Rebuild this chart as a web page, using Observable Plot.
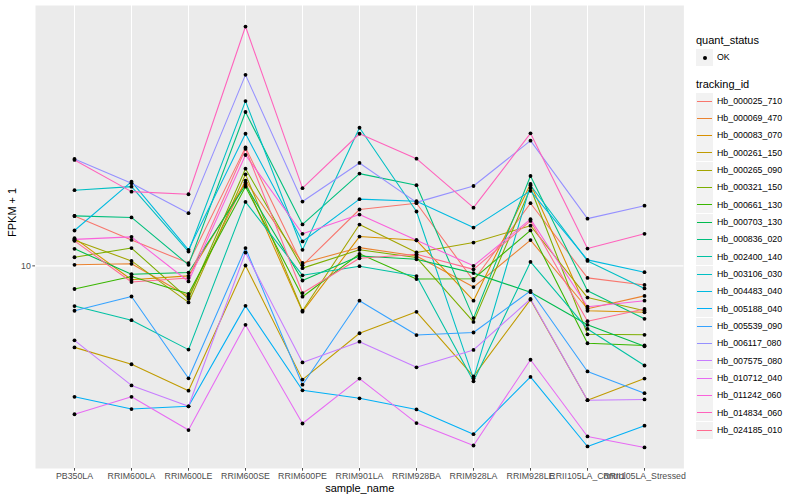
<!DOCTYPE html>
<html><head><meta charset="utf-8">
<script src="https://cdn.jsdelivr.net/npm/d3@7"></script>
<script src="https://cdn.jsdelivr.net/npm/@observablehq/plot@0.6"></script>
<style>
body{margin:0;background:#fff;font-family:"Liberation Sans",Arial,Helvetica,sans-serif;}
#wrap{position:relative;width:800px;height:500px;overflow:hidden;background:#fff;}
#chart{position:absolute;left:0;top:0;}
.lt{position:absolute;white-space:nowrap;line-height:1;color:#000;}
.key{position:absolute;width:17px;height:17px;background:#F2F2F2;}
</style></head><body>
<div id="wrap"><div id="chart"></div><div id="legend"></div></div>
<script>
const samples = ["PB350LA","RRIM600LA","RRIM600LE","RRIM600SE","RRIM600PE","RRIM901LA","RRIM928BA","RRIM928LA","RRIM928LE","RRII105LA_Control","RRII105LA_Stressed"];
const trackingIds = ["Hb_000025_710","Hb_000069_470","Hb_000083_070","Hb_000261_150","Hb_000265_090","Hb_000321_150","Hb_000661_130","Hb_000703_130","Hb_000836_020","Hb_002400_140","Hb_003106_030","Hb_004483_040","Hb_005188_040","Hb_005539_090","Hb_006117_080","Hb_007575_080","Hb_010712_040","Hb_011242_060","Hb_014834_060","Hb_024185_010"];
const colors = ["#F8766D","#EA8331","#D89000","#C09B00","#A3A500","#7CAE00","#39B600","#00BB4E","#00BF7D","#00C1A3","#00BFC4","#00BAE0","#00B0F6","#35A2FF","#9590FF","#C77CFF","#E76BF3","#FA62DB","#FF62BC","#FF6C91"];
const quantStatus = ["OK"];

// FPKM + 1 per sample (order of samples)
const Hb_000025_710 = [13.33, 11.61, 10.16, 19.80, 10.03, 13.84, 14.35, 9.19, 14.35, 9.33, 8.96];
const Hb_000069_470 = [10.06, 10.12, 8.38, 16.35, 10.17, 11.11, 10.59, 8.85, 11.60, 7.81, 8.41];
const Hb_000083_070 = [11.73, 9.23, 9.44, 16.16, 7.68, 11.84, 11.59, 8.18, 16.04, 7.72, 7.65];
const Hb_000261_150 = [6.25, 5.67, 4.87, 10.02, 5.19, 6.78, 7.67, 5.29, 8.23, 4.61, 5.22];
const Hb_000265_090 = [11.59, 10.29, 8.10, 16.95, 7.72, 12.69, 10.80, 11.44, 12.61, 8.33, 7.72];
const Hb_000321_150 = [10.51, 11.08, 8.27, 17.51, 9.87, 10.97, 10.49, 7.24, 15.67, 6.74, 6.72];
const Hb_000661_130 = [8.75, 9.40, 8.51, 15.79, 8.37, 10.72, 9.27, 9.28, 12.27, 6.40, 6.32];
const Hb_000703_130 = [11.03, 9.53, 9.62, 15.94, 9.19, 10.59, 10.39, 9.59, 8.59, 7.12, 6.29];
const Hb_000836_020 = [13.34, 13.22, 10.06, 24.28, 12.70, 17.02, 15.92, 7.40, 16.79, 8.66, 7.37];
const Hb_002400_140 = [7.93, 7.31, 6.17, 14.46, 9.47, 9.98, 9.43, 5.14, 10.23, 6.95, 5.63];
const Hb_003106_030 = [15.47, 15.79, 10.86, 25.86, 10.97, 22.17, 13.68, 5.22, 15.92, 10.29, 8.78];
const Hb_004483_040 = [12.26, 16.25, 10.97, 21.42, 11.51, 14.69, 14.52, 12.47, 15.41, 10.35, 9.64];
const Hb_005188_040 = [4.70, 4.38, 4.45, 7.94, 4.88, 4.66, 4.37, 3.79, 5.27, 3.53, 3.98];
const Hb_005539_090 = [7.72, 8.38, 5.23, 11.08, 5.04, 8.18, 6.71, 6.81, 8.66, 5.44, 4.80];
const Hb_006117_080 = [18.52, 16.10, 13.55, 30.08, 14.49, 18.10, 14.42, 15.85, 20.58, 13.13, 14.15];
const Hb_007575_080 = [6.51, 5.02, 4.45, 10.80, 5.73, 6.46, 5.57, 6.16, 8.26, 4.61, 4.63];
const Hb_010712_040 = [4.25, 4.70, 3.88, 7.12, 4.03, 5.22, 4.04, 3.55, 5.82, 3.74, 3.51];
const Hb_011242_060 = [11.65, 11.82, 9.14, 18.95, 12.03, 13.44, 11.59, 10.00, 13.09, 7.90, 8.18];
const Hb_014834_060 = [18.42, 15.34, 15.11, 39.74, 15.65, 21.42, 18.55, 13.99, 21.47, 11.05, 12.03];
const Hb_024185_010 = [11.55, 9.11, 9.32, 19.62, 8.55, 10.45, 10.69, 9.80, 12.96, 7.27, 7.80];

const seriesValues = [Hb_000025_710, Hb_000069_470, Hb_000083_070, Hb_000261_150, Hb_000265_090, Hb_000321_150, Hb_000661_130, Hb_000703_130, Hb_000836_020, Hb_002400_140, Hb_003106_030, Hb_004483_040, Hb_005188_040, Hb_005539_090, Hb_006117_080, Hb_007575_080, Hb_010712_040, Hb_011242_060, Hb_014834_060, Hb_024185_010];

const data = [];
seriesValues.forEach((vals, i) => vals.forEach((v, j) => data.push({sample: samples[j], id: trackingIds[i], value: v, status: "OK"})));

const all = data.map(d => d.value);
const lo = Math.log10(d3.min(all)), hi = Math.log10(d3.max(all)), pad = (hi - lo) * 0.05;
const FONT = '"Liberation Sans",Arial,Helvetica,sans-serif';

const plot = Plot.plot({
  width: 690, height: 500,
  marginLeft: 35, marginRight: 6.6, marginTop: 5, marginBottom: 32,
  style: {fontFamily: FONT, background: "white", overflow: "visible"},
  x: {type: "point", domain: samples, padding: 0.6},
  y: {type: "log", domain: [10 ** (lo - pad), 10 ** (hi + pad)]},
  color: {domain: trackingIds, range: colors},
  marks: [
    Plot.frame({fill: "#EBEBEB"}),
    Plot.gridX({stroke: "white", strokeOpacity: 1, strokeWidth: 1.07}),
    Plot.gridY([10], {stroke: "white", strokeOpacity: 1, strokeWidth: 1.07}),
    Plot.axisX({tickSize: 2.7, tickPadding: 2, fontSize: 8.8, color: "#4D4D4D", label: null}),
    Plot.axisY([10], {tickSize: 2.7, tickPadding: 2, fontSize: 8.8, color: "#4D4D4D", label: null, tickFormat: d => String(d)}),
    Plot.line(data, {x: "sample", y: "value", z: "id", stroke: "id", strokeWidth: 1.07}),
    Plot.dot(data, {x: "sample", y: "value", fill: "black", r: 1.9}),
    Plot.text(["sample_name"], {text: d => d, frameAnchor: "bottom", dy: 23, fontSize: 11, fill: "black"}),
    Plot.text(["FPKM + 1"], {text: d => d, frameAnchor: "left", rotate: -90, dx: -23, fontSize: 11, fill: "black"})
  ]
});
document.getElementById("chart").appendChild(plot);

// legend
const lg = document.getElementById("legend");
function addText(txt, left, cy, size) {
  const el = document.createElement("div");
  el.className = "lt";
  el.textContent = txt;
  el.style.left = left + "px";
  el.style.fontSize = size + "px";
  el.style.top = (cy - size * 0.5) + "px";
  lg.appendChild(el);
}
function addKey(cy) {
  const k = document.createElement("div");
  k.className = "key";
  k.style.left = "696px";
  k.style.top = Math.round(cy - 8.5) + "px";
  lg.appendChild(k);
  return k;
}
addText("quant_status", 696, 40, 11);
quantStatus.forEach((q, i) => {
  const cy = 57 + i * 17.33;
  const k = addKey(cy);
  const dot = document.createElement("div");
  dot.style.cssText = "position:absolute;left:6.5px;top:6.5px;width:4px;height:4px;border-radius:50%;background:#000;";
  k.appendChild(dot);
  addText(q, 717, cy, 8.8);
});
addText("tracking_id", 696, 84, 11);
trackingIds.forEach((id, i) => {
  const cy = 101 + i * 17.33;
  const k = addKey(cy);
  const ln = document.createElement("div");
  ln.style.cssText = `position:absolute;left:1px;width:15px;top:8px;height:1px;background:${colors[i]};`;
  k.appendChild(ln);
  addText(id, 717, cy, 8.8);
});
</script>
</body></html>
